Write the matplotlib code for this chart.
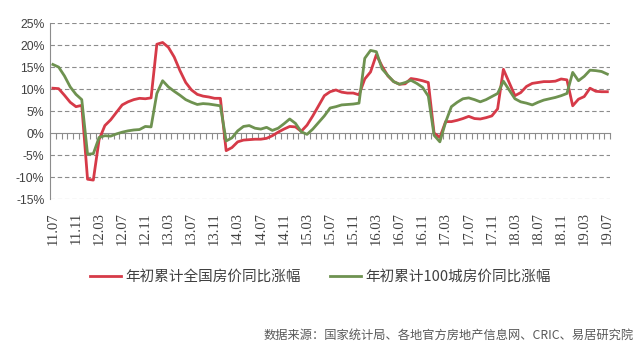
import numpy as np
import matplotlib
matplotlib.use("Agg")
import matplotlib.pyplot as plt
import matplotlib.transforms as mtransforms

plt.rcParams['font.family'] = ['Noto Sans CJK SC', 'DejaVu Sans']

# monthly, 2011.07 .. 2019.07
national = [10.2, 10.1, 8.6, 7.0, 6.0, 6.3, -10.5, -10.7, -1.5, 1.7,
            3.0, 4.7, 6.4, 7.1, 7.6, 7.9, 7.8, 8.0, 20.2, 20.6,
            19.5, 17.3, 14.2, 11.5, 9.8, 8.8, 8.4, 8.2, 7.9, 7.9,
            -4.0, -3.3, -2.0, -1.6, -1.5, -1.4, -1.4, -1.2, -0.6, 0.2,
            0.9, 1.5, 1.4, 0.4, 1.8, 3.9, 6.2, 8.5, 9.4, 9.8,
            9.3, 9.1, 9.1, 8.7, 12.3, 13.9, 17.8, 15.2, 13.0, 11.7,
            11.1, 11.2, 12.4, 12.2, 11.9, 11.5, 0.0, -1.0, 2.6, 2.6,
            2.9, 3.3, 3.8, 3.3, 3.2, 3.5, 3.9, 5.5, 14.5, 11.5,
            8.5, 9.2, 10.6, 11.3, 11.5, 11.7, 11.7, 11.8, 12.3, 12.1,
            6.2, 7.7, 8.3, 10.2, 9.5, 9.4, 9.4]

city100 = [15.6, 15.0, 13.0, 10.5, 8.8, 7.6, -4.8, -4.7, -1.0, -0.6,
           -0.7, -0.2, 0.2, 0.5, 0.7, 0.8, 1.5, 1.4, 9.0, 11.9,
           10.5, 9.5, 8.6, 7.6, 7.0, 6.5, 6.7, 6.6, 6.4, 6.2,
           -1.8, -1.1, 0.5, 1.5, 1.7, 1.1, 0.9, 1.3, 0.6, 1.1,
           2.1, 3.2, 2.2, 0.3, -0.3, 0.9, 2.4, 3.9, 5.7, 6.0,
           6.4, 6.5, 6.6, 6.8, 17.0, 18.8, 18.5, 14.6, 13.1, 11.7,
           11.1, 11.5, 12.0, 11.3, 10.4, 8.4, -0.5, -2.0, 2.5, 6.0,
           7.0, 7.8, 8.0, 7.6, 7.1, 7.6, 8.3, 9.0, 11.8, 9.8,
           7.8, 7.1, 6.8, 6.4, 7.0, 7.5, 7.8, 8.1, 8.5, 9.0,
           13.8, 11.9, 12.9, 14.3, 14.2, 14.0, 13.4]

tick_labels = ["11.07", "11.11", "12.03", "12.07", "12.11", "13.03", "13.07",
               "13.11", "14.03", "14.07", "14.11", "15.03", "15.07", "15.11",
               "16.03", "16.07", "16.11", "17.03", "17.07", "17.11", "18.03",
               "18.07", "18.11", "19.03", "19.07"]

series_names = ["年初累计全国房价同比涨幅", "年初累计100城房价同比涨幅"]
source = "数据来源：国家统计局、各地官方房地产信息网、CRIC、易居研究院"

x = np.arange(len(national))

fig = plt.figure(figsize=(6.41, 3.56), dpi=100)
ax = fig.add_axes([0.078, 0.441, 0.874, 0.494])

for v in [25, 20, 15, 10, 5, -5, -10, -15]:
    ax.axhline(v, color="#8c8c8c", lw=0.8, ls=(0, (4, 2.5)), zorder=1)

ax.plot(x, national, color="#d63a48", lw=2.0, label=series_names[0],
        solid_joinstyle="round", zorder=3)
ax.plot(x, city100, color="#6e9250", lw=2.0, label=series_names[1],
        solid_joinstyle="round", zorder=3)

ax.set_xlim(-0.5, len(x) - 0.5)
ax.set_ylim(-15, 25)
ax.set_yticks(range(-15, 30, 5))
ax.set_yticklabels([f"{v}%" for v in range(-15, 30, 5)],
                   fontfamily="Liberation Sans", fontsize=8.8, color="#404040")
ax.tick_params(axis="y", length=0, pad=4)

# category axis sits on the zero line, monthly tick marks between categories
ax.spines["bottom"].set_position(("data", 0))
ax.spines["bottom"].set_color("#8c8c8c")
ax.spines["left"].set_color("#8c8c8c")
ax.spines["top"].set_visible(False)
ax.spines["right"].set_visible(False)
ax.set_xticks(np.arange(-0.5, len(x), 1))
ax.set_xticklabels([])
ax.tick_params(axis="x", length=4, color="#8c8c8c", direction="out")

trans = mtransforms.blended_transform_factory(ax.transData, ax.transAxes)
for k, lab in enumerate(tick_labels):
    ax.text(k * 4, -0.075, lab, transform=trans, rotation=90, ha="center",
            va="top", fontsize=10.5, fontfamily="Liberation Serif", color="#404040")

fig.legend(loc="center", bbox_to_anchor=(0.5, 0.222), ncol=2, frameon=False,
           fontsize=10.5, handlelength=2.1, handletextpad=0.3,
           columnspacing=2.0, labelcolor="#404040")

fig.text(0.988, 0.059, source, ha="right", va="center", fontsize=8.8,
         color="#595959")

fig.savefig("out.png", dpi=100)
